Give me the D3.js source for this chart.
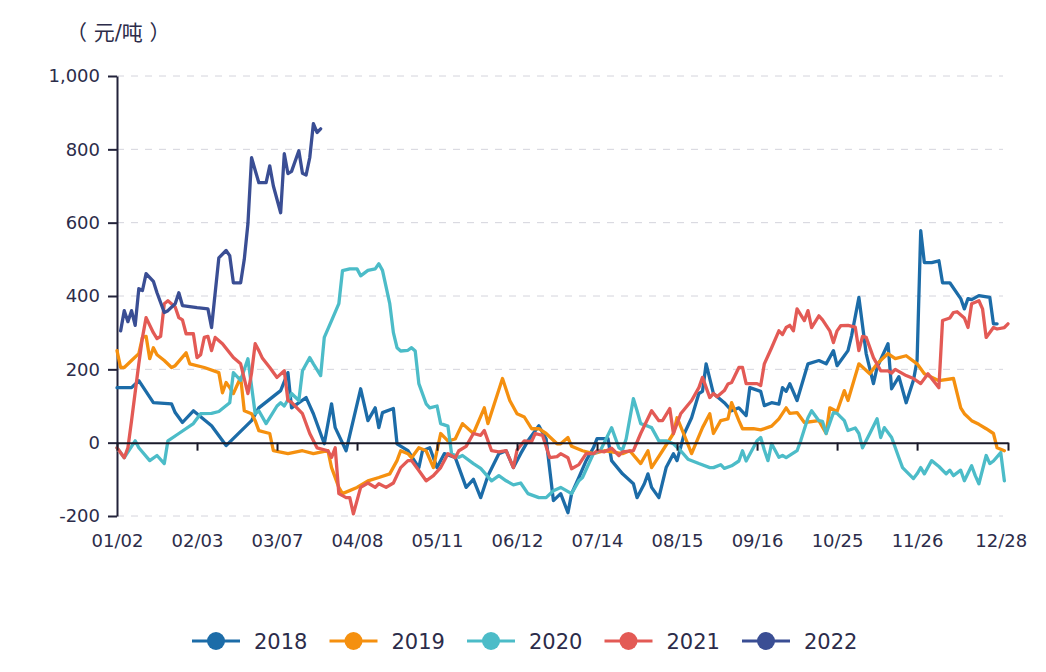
<!DOCTYPE html>
<html>
<head>
<meta charset="utf-8">
<script src="https://cdn.jsdelivr.net/npm/d3@7"></script>
<style>
  body { margin: 0; background: #fff; }
  text { font-family: "DejaVu Sans", "Noto Sans CJK SC", sans-serif; fill: #2c2c4a; }
</style>
</head>
<body>
<svg id="chart" width="1046" height="672"></svg>
<script>
// day index on the trading-day axis, value in 元/吨
const years = ['2018', '2019', '2020', '2021', '2022'];
const colors = ['#1c6ca8', '#f5900f', '#4cbcc8', '#e35a55', '#3a4e94'];

const dateLabels = ['01/02', '02/03', '03/07', '04/08', '05/11', '06/12', '07/14', '08/15', '09/16', '10/25', '11/26', '12/28'];
const labelIndex = [0, 22, 44, 66, 88, 110, 132, 154, 176, 198, 220, 243];
const lastIndex = 245;
const yTicks = [-200, 0, 200, 400, 600, 800, 1000];

const s2018 = [[0,150],[4,150],[6,169],[10,109],[15,106],[16,82],[18,55],[21,87],[26,46],[30,-8],[37,60],[39,95],[45,142],[47,191],[48,95],[52,123],[54,79],[57,-3],[59,106],[60,41],[63,-22],[67,147],[69,60],[71,95],[72,41],[73,82],[76,93],[77,-3],[80,-22],[83,-68],[84,-22],[86,-14],[88,-68],[90,-30],[93,-40],[96,-122],[98,-100],[100,-150],[102,-90],[105,-30],[107,-22],[109,-68],[111,-30],[113,5],[116,46],[118,10],[120,-158],[122,-139],[124,-191],[125,-139],[127,-95],[129,-49],[131,-14],[132,11],[135,11],[136,-49],[139,-85],[142,-112],[143,-150],[145,-112],[146,-85],[147,-122],[149,-150],[151,-68],[153,-30],[154,-49],[156,25],[158,68],[160,134],[161,140],[162,215],[164,134],[167,109],[169,87],[171,95],[173,74],[174,150],[177,140],[178,101],[180,109],[182,105],[183,150],[184,140],[185,161],[187,115],[190,215],[193,224],[195,215],[197,251],[198,210],[201,251],[202,292],[204,396],[206,243],[208,161],[209,205],[212,270],[213,147],[215,180],[217,109],[219,170],[220,224],[221,578],[222,491],[224,491],[226,496],[227,436],[229,436],[232,393],[233,365],[234,393],[235,390],[237,401],[240,396],[241,324],[242,324]];

const s2019 = [[0,251],[1,205],[2,205],[4,224],[6,243],[7,287],[8,290],[9,229],[10,259],[11,240],[13,224],[15,205],[16,210],[19,245],[20,215],[24,205],[28,191],[29,136],[30,164],[31,150],[32,134],[34,178],[35,87],[37,79],[38,60],[39,33],[42,25],[43,-22],[47,-30],[51,-22],[54,-30],[58,-22],[59,-68],[61,-122],[62,-139],[66,-122],[69,-104],[72,-95],[75,-85],[77,-49],[78,-22],[80,-30],[81,-41],[83,-14],[85,-22],[87,-68],[89,25],[91,5],[93,10],[95,52],[98,25],[101,95],[102,52],[106,175],[108,115],[110,79],[112,70],[114,38],[116,38],[118,25],[121,-3],[122,-3],[124,14],[125,-10],[128,-22],[131,-30],[134,-22],[136,-25],[139,-30],[141,-22],[144,-57],[146,-22],[147,-68],[150,-22],[153,25],[154,68],[156,20],[158,-30],[161,41],[163,79],[164,25],[166,60],[168,65],[169,109],[171,60],[172,38],[175,38],[177,35],[180,45],[182,65],[184,95],[185,80],[187,82],[189,55],[193,60],[195,25],[196,95],[198,85],[200,142],[201,115],[204,215],[207,188],[209,215],[212,243],[214,229],[217,237],[220,215],[222,188],[226,169],[230,175],[232,95],[233,79],[235,60],[237,50],[239,38],[241,25],[242,-14],[244,-22]];

const s2020 = [[0,-14],[2,-41],[5,5],[6,-14],[9,-49],[11,-35],[13,-57],[14,5],[17,25],[21,52],[23,79],[26,80],[28,85],[31,109],[32,191],[34,170],[36,229],[38,79],[39,87],[41,52],[44,100],[45,109],[46,100],[48,134],[50,115],[51,196],[53,232],[54,215],[56,183],[57,287],[59,333],[61,379],[62,469],[64,474],[66,474],[67,455],[69,470],[71,474],[72,488],[73,470],[75,379],[76,300],[77,259],[78,250],[80,252],[81,259],[82,250],[83,161],[85,106],[86,95],[88,100],[89,52],[91,45],[92,-30],[94,-40],[95,-35],[98,-57],[100,-70],[103,-104],[105,-90],[107,-104],[109,-115],[111,-110],[113,-139],[116,-150],[118,-150],[120,-131],[122,-122],[125,-139],[127,-104],[128,-95],[131,-30],[133,-20],[136,41],[138,-14],[139,-20],[140,10],[142,120],[143,87],[144,52],[146,45],[147,41],[149,5],[151,5],[153,-3],[155,-22],[157,-45],[160,-57],[163,-68],[164,-68],[166,-60],[167,-70],[169,-63],[171,-50],[172,-22],[173,-50],[176,5],[177,14],[178,-20],[179,-49],[180,-3],[182,-40],[183,-35],[184,-41],[187,-22],[188,5],[190,68],[191,87],[193,60],[194,58],[195,25],[197,82],[198,80],[200,60],[201,33],[203,40],[204,25],[205,-14],[207,25],[209,65],[210,14],[211,41],[213,14],[215,-41],[216,-68],[219,-98],[220,-85],[221,-68],[222,-85],[224,-49],[226,-65],[228,-85],[229,-75],[230,-90],[232,-75],[233,-104],[235,-63],[236,-90],[237,-112],[239,-35],[240,-57],[241,-50],[243,-27],[244,-104]];

const s2021 = [[0,-14],[2,-41],[3,-14],[4,60],[6,215],[7,287],[8,341],[10,300],[11,284],[12,290],[13,379],[14,387],[16,370],[17,341],[18,335],[19,297],[21,297],[22,232],[23,240],[24,287],[25,290],[26,251],[27,287],[29,270],[32,232],[34,215],[36,134],[37,190],[38,270],[39,251],[40,230],[42,205],[44,178],[46,196],[47,115],[48,110],[51,79],[53,25],[55,-14],[58,-22],[59,-40],[60,-14],[61,-139],[63,-150],[64,-150],[65,-194],[67,-122],[69,-110],[71,-122],[72,-112],[74,-122],[76,-110],[78,-68],[80,-49],[81,-49],[83,-76],[85,-104],[87,-90],[89,-68],[91,-30],[93,-41],[94,-22],[96,-10],[98,25],[100,20],[101,33],[103,-22],[105,-25],[107,-22],[109,-68],[110,-20],[112,5],[114,3],[115,25],[117,20],[119,-41],[121,-38],[122,-30],[124,-41],[125,-71],[127,-60],[129,-30],[131,-30],[132,-22],[134,-25],[136,-15],[138,-35],[139,-25],[142,-22],[144,25],[147,87],[149,60],[150,60],[152,93],[153,25],[155,79],[158,115],[160,150],[161,178],[163,123],[164,134],[165,125],[167,142],[168,160],[169,164],[171,205],[172,205],[173,161],[176,161],[177,156],[178,215],[180,259],[182,305],[183,295],[184,314],[185,320],[186,305],[187,365],[189,333],[190,360],[191,314],[193,346],[194,335],[196,305],[197,273],[198,305],[199,319],[201,320],[203,315],[204,251],[205,290],[206,287],[208,232],[210,196],[212,196],[213,190],[214,200],[217,183],[219,175],[221,161],[223,188],[224,175],[226,150],[227,333],[229,340],[230,355],[231,357],[233,340],[234,314],[235,379],[237,387],[238,365],[239,287],[241,314],[242,310],[244,314],[245,324]];

const s2022 = [[1,305],[2,360],[3,330],[4,360],[5,320],[6,420],[7,415],[8,461],[10,440],[11,409],[13,355],[14,360],[16,379],[17,409],[18,374],[22,368],[25,365],[26,314],[28,504],[30,524],[31,510],[32,436],[34,436],[35,500],[36,597],[37,777],[39,709],[41,709],[42,755],[43,700],[45,627],[46,788],[47,734],[48,740],[50,796],[51,735],[52,730],[53,777],[54,870],[55,846],[56,856]];

const seriesData = [s2018, s2019, s2020, s2021, s2022];

const svg = d3.select('#chart');
const x = d3.scaleLinear().domain([0, lastIndex]).range([117, 1008]);
const y = d3.scaleLinear().domain([-200, 1000]).range([516, 76]);

// plain hyphen for negatives, like the original
const numFormat = d3.formatLocale({decimal: '.', thousands: ',', grouping: [3], currency: ['', ''], minus: '-'}).format(',');

// dashed grid
svg.append('g').selectAll('line').data(yTicks.filter(d => d !== 0)).enter().append('line')
  .attr('x1', x(0)).attr('x2', 1003)
  .attr('y1', d => y(d)).attr('y2', d => y(d))
  .attr('stroke', '#d4d4dc').attr('stroke-width', 1).attr('stroke-dasharray', '7,7');

// y axis
const yAxis = d3.axisLeft(y).tickValues(yTicks).tickFormat(numFormat).tickSize(9).tickPadding(8).tickSizeOuter(0);
const yg = svg.append('g').attr('transform', `translate(${x(0)},0)`).call(yAxis);
yg.select('.domain').attr('stroke', '#22223a').attr('stroke-width', 2);
yg.selectAll('.tick line').attr('stroke', '#22223a').attr('stroke-width', 2);
yg.selectAll('text').attr('font-size', 18).style('fill', '#2c2c4a').attr('font-family', '"DejaVu Sans", sans-serif');

// lines
const line = d3.line().x(d => x(d[0])).y(d => y(d[1]));
svg.append('g').selectAll('path').data(seriesData).enter().append('path')
  .attr('fill', 'none')
  .attr('stroke', (d, i) => colors[i])
  .attr('stroke-width', 3.3)
  .attr('stroke-linejoin', 'round')
  .attr('stroke-linecap', 'round')
  .attr('d', line);

// zero line with ticks
const xAxisLine = d3.axisBottom(x).tickValues(labelIndex.slice(0, -1).concat([lastIndex])).tickFormat('').tickSize(8).tickSizeOuter(0);
const xg = svg.append('g').attr('transform', `translate(0,${y(0)})`).call(xAxisLine);
xg.select('.domain').attr('stroke', '#1a1a2a').attr('stroke-width', 2);
xg.selectAll('.tick line').attr('stroke', '#1a1a2a').attr('stroke-width', 2);

// date labels at the bottom
const xLabels = d3.axisBottom(x).tickValues(labelIndex).tickFormat((d, i) => dateLabels[i]).tickSize(0).tickPadding(18);
const xl = svg.append('g').attr('transform', `translate(0,${y(-200)})`).call(xLabels);
xl.select('.domain').remove();
xl.selectAll('text').attr('font-size', 18).style('fill', '#2c2c4a').attr('font-family', '"DejaVu Sans", sans-serif');

// unit
svg.append('text').attr('x', 66).attr('y', 40).attr('font-size', 21)
  .attr('font-family', '"Noto Sans CJK SC", sans-serif').attr('xml:space', 'preserve').text('（ 元/吨 ）');

// legend
const legend = svg.append('g').selectAll('g').data(years).enter().append('g')
  .attr('transform', (d, i) => `translate(${216 + i * 137.5},641)`);
legend.append('line').attr('x1', -24).attr('x2', 24)
  .attr('stroke', (d, i) => colors[i]).attr('stroke-width', 3);
legend.append('circle').attr('r', 9).attr('fill', (d, i) => colors[i]);
legend.append('text').attr('x', 38).attr('dy', '0.36em').attr('font-size', 21).text(d => d);
</script>
</body>
</html>
